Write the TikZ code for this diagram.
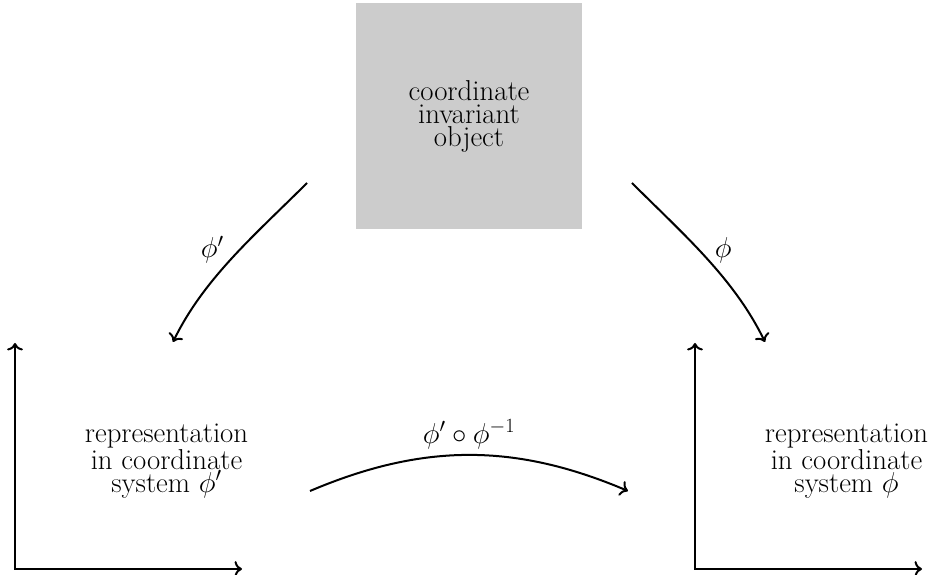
\RequirePackage{fix-cm}
\documentclass[tikz,border=0pt]{standalone}
\usetikzlibrary{arrows.meta}
\begin{document}
\begin{tikzpicture}[x=1pt,y=1pt,
  >={To[scale=1.25]},
  bigfont/.style={font=\fontsize{28.8}{23}\selectfont},
  txt/.style={bigfont,align=center,inner sep=0pt},
  conn/.style={line width=2pt,->},
  axis/.style={line width=2pt,<->},
  lbl/.style={bigfont,inner sep=1pt}]
\useasboundingbox (0,0) rectangle (930,575);
% object box
\node[txt,fill=black!20,minimum width=226pt,minimum height=226pt] (obj) at (469,459)
  {coordinate\\invariant\\object};
% left axes
\coordinate (lo) at (15,6);
\coordinate (ly) at (15,232);
\coordinate (lx) at (242,6);
\draw[axis] (ly) -- (lo) -- (lx);
\node[txt] (repL) at (166.5,114) {representation\\in coordinate\\system $\phi'$};
% right axes
\coordinate (ro) at (695,6);
\coordinate (ry) at (695,232);
\coordinate (rx) at (922,6);
\draw[axis] (ry) -- (ro) -- (rx);
\node[txt] (repR) at (846.5,114) {representation\\in coordinate\\system $\phi$};
% connector endpoints
\coordinate (lS) at (307,392);
\coordinate (lE) at (173,233);
\coordinate (rS) at (632,392);
\coordinate (rE) at (765,233);
\coordinate (bS) at (310,84);
\coordinate (bE) at (628,84);
\draw[conn] (lS) .. controls +(-51,-51) and +(31,64) .. node[lbl,anchor=south east,pos=0.55] (lphi) {$\phi'$} (lE);
\draw[conn] (rS) .. controls +(51,-51) and +(-31,64) .. node[lbl,anchor=south west,pos=0.55] (rphi) {$\phi$} (rE);
\draw[conn] (bS) .. controls +(113,48) and +(-113,48) .. node[lbl,above,inner sep=5pt] (bphi) {$\phi'\circ\phi^{-1}$} (bE);
\end{tikzpicture}
\end{document}
